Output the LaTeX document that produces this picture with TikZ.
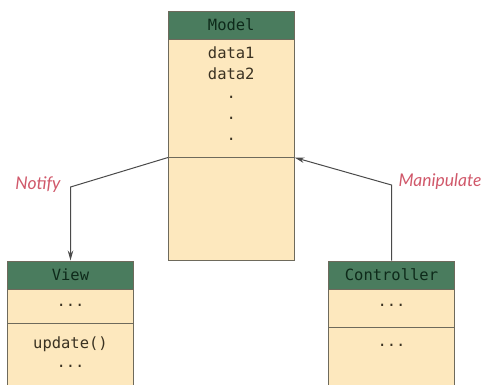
\documentclass[tikz,border=0pt]{standalone}
\usepackage{fontspec}
\setmonofont{DejaVu Sans Mono}
\newfontfamily\labelfont{Lato}
\usetikzlibrary{arrows.meta}
\definecolor{headgreen}{HTML}{4A7C5E}
\definecolor{bodyfill}{HTML}{FDE8BE}
\definecolor{boxline}{HTML}{6E6A5C}
\definecolor{headtext}{HTML}{0E2A1A}
\definecolor{bodytext}{HTML}{3A3222}
\definecolor{labelred}{HTML}{D0586A}
\definecolor{wireline}{HTML}{4A4A4A}
\tikzset{
  headbox/.style={draw=boxline, line width=1pt, fill=headgreen, minimum width=125.5pt, minimum height=28pt, inner sep=0pt, font=\ttfamily\fontsize{15.5}{15.5}\selectfont, text=headtext},
  bodybox/.style={draw=boxline, line width=1pt, fill=bodyfill, minimum width=125.5pt, inner sep=0pt},
  bodytxt/.style={font=\ttfamily\fontsize{15.5}{15.5}\selectfont, text=bodytext, inner sep=0pt},
  wire/.style={draw=wireline, line width=1pt, -{Stealth[length=10pt,width=5.5pt]}},
  lbl/.style={font=\labelfont\itshape\fontsize{17.5}{17.5}\selectfont, text=labelred, inner sep=0pt}
}
\begin{document}
\begin{tikzpicture}[x=1pt,y=-1pt]
\useasboundingbox (0,0) rectangle (482,384);
\clip (0,0) rectangle (482,384);
% Model
\node[bodybox, minimum height=103pt] (mlow) at (231.25,208.5) {};
\node[bodybox, minimum height=118pt] (mbody) at (231.25,98) {};
\node[headbox] (mhead) at (231.25,25) {Model};
\node[bodytxt] (d1) at (231.25,53) {data1};
\node[bodytxt] (d2) at (231.25,74) {data2};
\node[bodytxt] (dot1) at (231.25,97) {.};
\node[bodytxt] (dot2) at (231.25,118) {.};
\node[bodytxt] (dot3) at (231.25,139) {.};
% View
\node[bodybox, minimum height=70pt] (vlow) at (70.5,358) {};
\node[bodybox, minimum height=34pt] (vmid) at (70.5,306) {};
\node[headbox] (vhead) at (70.5,275) {View};
\node[bodytxt] (vdots1) at (70.5,305) {...};
\node[bodytxt] (vupd) at (70.5,344) {update()};
\node[bodytxt] (vdots2) at (70.5,366) {...};
% Controller
\node[bodybox, minimum height=66pt] (clow) at (391.5,360) {};
\node[bodybox, minimum height=38pt] (cmid) at (391.5,308) {};
\node[headbox] (chead) at (391.5,275) {Controller};
\node[bodytxt] (cdots1) at (391.5,305) {...};
\node[bodytxt] (cdots2) at (391.5,345) {...};
% connectors
\coordinate (ncorner) at (70.5,187);
\coordinate (mcorner) at (391.5,185);
\draw[wire] (mbody.south west) -- (ncorner) -- (vhead.north);
\draw[wire] (chead.north) -- (mcorner) -- (mbody.south east);
\node[lbl] (notify) at (38,185) {Notify};
\node[lbl] (manip) at (440,182) {Manipulate};
\end{tikzpicture}
\end{document}
